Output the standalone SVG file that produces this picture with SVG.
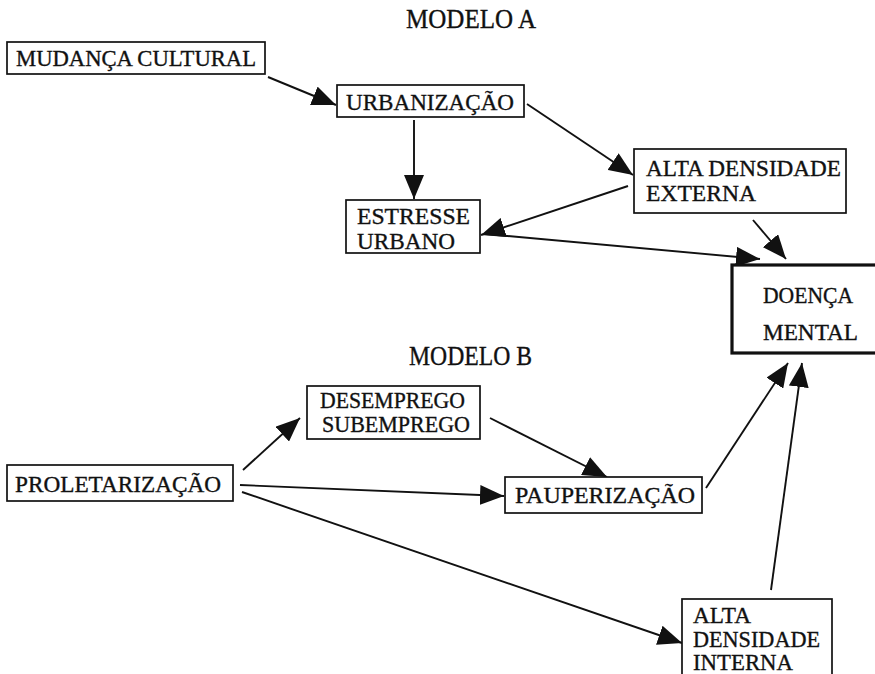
<svg xmlns="http://www.w3.org/2000/svg" width="875" height="674" viewBox="0 0 875 674">
<defs>
<style>
.box{fill:#fff;stroke:#111;stroke-width:1.7}
.thick{fill:#fff;stroke:#111;stroke-width:3.2}
.t{font-family:"Liberation Serif","Times New Roman",serif;font-size:23px;fill:#111;stroke:#111;stroke-width:0.35}
.h{font-family:"Liberation Serif","Times New Roman",serif;font-size:27px;fill:#111;stroke:#111;stroke-width:0.35}
.c line{stroke:#111;stroke-width:1.9;marker-end:url(#ah)}
</style>
<marker id="ah" viewBox="0 0 24 20" refX="24" refY="10" markerUnits="userSpaceOnUse" markerWidth="24" markerHeight="20" orient="auto">
<path d="M0,0 L24,10 L0,20 z" fill="#111"/>
</marker>
</defs>
<rect width="875" height="674" fill="#fff"/>
<text class="h" x="406" y="28" textLength="130" lengthAdjust="spacingAndGlyphs">MODELO A</text>
<text class="h" x="409" y="365" textLength="123" lengthAdjust="spacingAndGlyphs">MODELO B</text>
<g class="c" id="connectors">
<line x1="268" y1="77" x2="336" y2="105"/>
<line x1="414" y1="120" x2="414" y2="199"/>
<line x1="527" y1="104" x2="633" y2="175"/>
<line x1="628" y1="186" x2="481" y2="235"/>
<line x1="486" y1="234" x2="760" y2="259"/>
<line x1="753" y1="220" x2="786" y2="259"/>
<line x1="243" y1="470" x2="300" y2="418"/>
<line x1="240" y1="485" x2="504" y2="496"/>
<line x1="242" y1="492" x2="682" y2="643"/>
<line x1="490" y1="418" x2="607" y2="477"/>
<line x1="706" y1="488" x2="788" y2="363"/>
<line x1="771" y1="590" x2="802" y2="363"/>
</g>
<g id="mudanca">
<rect class="box" x="7" y="42" width="258" height="32"/>
<text class="t" x="16" y="66" textLength="240" lengthAdjust="spacingAndGlyphs">MUDANÇA CULTURAL</text>
</g>
<g id="urbanizacao">
<rect class="box" x="337" y="85" width="187" height="32"/>
<text class="t" x="346" y="110" textLength="168" lengthAdjust="spacingAndGlyphs">URBANIZAÇÃO</text>
</g>
<g id="alta-externa">
<rect class="box" x="634" y="149" width="212" height="64"/>
<text class="t" x="646" y="176" textLength="195" lengthAdjust="spacingAndGlyphs">ALTA DENSIDADE</text>
<text class="t" x="646" y="201" textLength="110" lengthAdjust="spacingAndGlyphs">EXTERNA</text>
</g>
<g id="estresse">
<rect class="box" x="346" y="200" width="134" height="53"/>
<text class="t" x="357" y="224" textLength="113" lengthAdjust="spacingAndGlyphs">ESTRESSE</text>
<text class="t" x="357" y="249" textLength="98" lengthAdjust="spacingAndGlyphs">URBANO</text>
</g>
<g id="doenca">
<rect class="thick" x="732" y="265" width="150" height="88"/>
<text class="t" x="763" y="303" textLength="90" lengthAdjust="spacingAndGlyphs">DOENÇA</text>
<text class="t" x="763" y="340" textLength="95" lengthAdjust="spacingAndGlyphs">MENTAL</text>
</g>
<g id="desemprego">
<rect class="box" x="307" y="386" width="173" height="53"/>
<text class="t" x="320" y="408" textLength="145" lengthAdjust="spacingAndGlyphs">DESEMPREGO</text>
<text class="t" x="322" y="432" textLength="148" lengthAdjust="spacingAndGlyphs">SUBEMPREGO</text>
</g>
<g id="proletarizacao">
<rect class="box" x="7" y="465" width="226" height="36"/>
<text class="t" x="15" y="492" textLength="206" lengthAdjust="spacingAndGlyphs">PROLETARIZAÇÃO</text>
</g>
<g id="pauperizacao">
<rect class="box" x="505" y="477" width="197" height="36"/>
<text class="t" x="515" y="503" textLength="180" lengthAdjust="spacingAndGlyphs">PAUPERIZAÇÃO</text>
</g>
<g id="alta-interna">
<rect class="box" x="682" y="599" width="150" height="85"/>
<text class="t" x="693" y="623" textLength="58" lengthAdjust="spacingAndGlyphs">ALTA</text>
<text class="t" x="693" y="647" textLength="127" lengthAdjust="spacingAndGlyphs">DENSIDADE</text>
<text class="t" x="693" y="670" textLength="100" lengthAdjust="spacingAndGlyphs">INTERNA</text>
</g>
</svg>
